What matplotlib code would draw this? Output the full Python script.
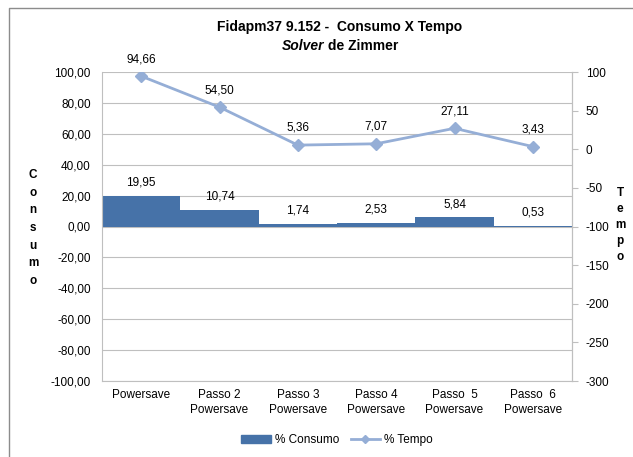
import matplotlib
matplotlib.use("Agg")
import matplotlib.pyplot as plt
from matplotlib.lines import Line2D
import numpy as np

categories = ["Powersave", "Passo 2\nPowersave", "Passo 3\nPowersave", "Passo 4\nPowersave",
              "Passo  5\nPowersave", "Passo  6\nPowersave"]
consumo = [19.95, 10.74, 1.74, 2.53, 5.84, 0.53]
tempo = [94.66, 54.50, 5.36, 7.07, 27.11, 3.43]
left_ticks = list(range(-100, 101, 20))
right_ticks = list(range(-300, 101, 50))

plt.rcParams['font.family'] = ['Liberation Sans', 'DejaVu Sans']
W, H = 633, 457
fig = plt.figure(figsize=(W / 100, H / 100), dpi=100)
ax = fig.add_axes([102 / W, 1 - 381 / H, (572 - 102) / W, (381 - 72) / H])

bar_color = "#4672A8"
line_color = "#95AED6"
grid_color = "#BFBFBF"
fs = 8.5

x = np.arange(len(categories))
ax.bar(x, consumo, width=1.0, color=bar_color, zorder=2)
ax.set_xlim(-0.5, len(categories) - 0.5)
ax.set_ylim(-100, 100)
ax.set_yticks(left_ticks)
ax.set_yticklabels([f"{v:.2f}".replace(".", ",") for v in left_ticks], fontsize=fs)
ax.tick_params(axis='y', length=0, pad=8)
ax.set_xticks(x)
ax.set_xticklabels(categories, fontsize=fs, linespacing=1.3)
ax.tick_params(axis='x', length=0, pad=6)
ax.grid(axis='y', color=grid_color, linewidth=0.8, zorder=0)
ax.set_axisbelow(True)
ax.spines['top'].set_visible(False)
for s in ['left', 'right', 'bottom']:
    ax.spines[s].set_color(grid_color)
    ax.spines[s].set_linewidth(0.8)

for xi, v in zip(x, consumo):
    ax.annotate(f"{v:.2f}".replace(".", ","), (xi, v), xytext=(0, 5), textcoords='offset points',
                ha='center', va='bottom', fontsize=fs, zorder=5)

ax2 = ax.twinx()
ax2.plot(x, tempo, color=line_color, linewidth=2, marker='D', markersize=6, zorder=3)
ax2.set_ylim(-300, 100)
ax2.set_yticks(right_ticks)
ax2.set_yticklabels([str(v) for v in right_ticks], fontsize=fs)
ax2.tick_params(axis='y', length=4, color=grid_color, pad=6)
for s in ['top', 'left', 'bottom']:
    ax2.spines[s].set_visible(False)
ax2.spines['right'].set_color(grid_color)
ax2.spines['right'].set_linewidth(0.8)
for xi, v in zip(x, tempo):
    ax2.annotate(f"{v:.2f}".replace(".", ","), (xi, v), xytext=(0, 8), textcoords='offset points',
                 ha='center', va='bottom', fontsize=fs)

# titles
tfs = 10
fig.text(340 / W, 1 - 27 / H, "Fidapm37 9.152 -  Consumo X Tempo", ha='center', va='center',
         fontsize=tfs, fontweight='bold')
t1 = fig.text(0, 1 - 46 / H, "Solver", ha='left', va='center', fontsize=tfs,
              fontweight='bold', fontstyle='italic')
t2 = fig.text(0, 1 - 46 / H, " de Zimmer", ha='left', va='center', fontsize=tfs, fontweight='bold')
fig.canvas.draw()
r = fig.canvas.get_renderer()
w1 = t1.get_window_extent(r).width
w2 = t2.get_window_extent(r).width
x0 = 340 - (w1 + w2) / 2
t1.set_x(x0 / W)
t2.set_x((x0 + w1) / W)

# vertical stacked axis labels
fig.text(33 / W, 1 - 228 / H, "\n".join("Consumo"), ha='center', va='center', fontsize=8.5,
         fontweight='bold', linespacing=1.62)
fig.text(620 / W, 1 - 225 / H, "\n".join("Tempo"), ha='center', va='center', fontsize=8.5,
         fontweight='bold', linespacing=1.45)

# legend
handles = [plt.Rectangle((0, 0), 1, 1, color=bar_color),
           Line2D([0], [0], color=line_color, linewidth=2, marker='D', markersize=4)]
fig.legend(handles, ["% Consumo", "% Tempo"], loc='center', bbox_to_anchor=(337 / W, 1 - 440 / H),
           ncol=2, frameon=False, fontsize=fs, handlelength=2.5, handletextpad=0.3, columnspacing=1.0)

# outer frame
fig.add_artist(Line2D([8.5 / W, 8.5 / W, 1.0], [0, 1 - 7.5 / H, 1 - 7.5 / H], color="#8C8C8C",
                      linewidth=1.0, transform=fig.transFigure))

fig.savefig("out.png", dpi=100)
